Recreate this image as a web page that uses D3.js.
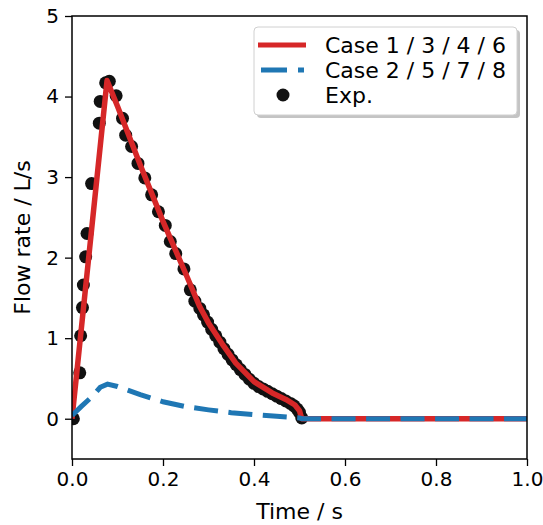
<!DOCTYPE html>
<html>
<head>
<meta charset="utf-8">
<script src="https://cdn.jsdelivr.net/npm/d3@7"></script>
<style>
  body { margin: 0; background: #fff; }
  svg text { font-family: "DejaVu Sans", sans-serif; fill: #000; }
</style>
</head>
<body>
<script>
// simulated flow, case 1 / 3 / 4 / 6
let simT = [0, 0.077, 0.10, 0.15, 0.20, 0.25, 0.28, 0.30, 0.33, 0.36, 0.40, 0.44, 0.47, 0.49, 0.50, 0.505, 1.0]
let simQ = [0, 4.2, 3.88, 3.15, 2.45, 1.80, 1.40, 1.19, 0.93, 0.69, 0.46, 0.32, 0.24, 0.17, 0.10, 0, 0]

// case 2 / 5 / 7 / 8
let sim2T = [0, 0.02, 0.047, 0.062, 0.078, 0.10, 0.12, 0.15, 0.20, 0.25, 0.30, 0.35, 0.40, 0.45, 0.50, 0.505, 1.0]
let sim2Q = [0.04, 0.15, 0.29, 0.39, 0.43, 0.40, 0.36, 0.30, 0.21, 0.15, 0.11, 0.075, 0.05, 0.03, 0.01, 0, 0]

// experiment
let expT = [0.003, 0.017, 0.019, 0.023, 0.025, 0.030, 0.033, 0.043, 0.060, 0.062, 0.074, 0.082,
  0.097, 0.111, 0.118, 0.131, 0.145, 0.160, 0.175, 0.190, 0.205, 0.216, 0.228, 0.246, 0.260,
  0.270, 0.281, 0.289, 0.298, 0.307, 0.316, 0.325, 0.334, 0.343, 0.352, 0.361, 0.370, 0.380,
  0.390, 0.400, 0.410, 0.420, 0.430, 0.440, 0.450, 0.460, 0.470, 0.480, 0.488, 0.495, 0.500, 0.505]
let expQ = [0.0, 0.57, 1.03, 1.38, 1.66, 2.01, 2.30, 2.92, 3.67, 3.94, 4.17, 4.19,
  4.01, 3.73, 3.52, 3.38, 3.17, 2.99, 2.78, 2.57, 2.40, 2.20, 2.05, 1.86, 1.60,
  1.46, 1.37, 1.29, 1.20, 1.11, 1.03, 0.95, 0.87, 0.80, 0.73, 0.67, 0.61, 0.55,
  0.49, 0.44, 0.40, 0.37, 0.34, 0.31, 0.28, 0.25, 0.22, 0.19, 0.16, 0.12, 0.08, 0.01]

let xTicks = [0, 0.2, 0.4, 0.6, 0.8, 1.0]
let yTicks = [0, 1, 2, 3, 4, 5]
let legendLabels = ['Case 1 / 3 / 4 / 6', 'Case 2 / 5 / 7 / 8', 'Exp.']

let width = 543
let height = 525
let plotLeft = 72, plotRight = 527, plotTop = 16, plotBottom = 459

let red = '#d62728'
let blue = '#1f77b4'

let svg = d3.select('body').append('svg')
    .attr('width', width)
    .attr('height', height)

let xScale = d3.scaleLinear().domain([0, 1]).range([plotLeft, plotRight])
let yScale = d3.scaleLinear().domain([-0.5, 5]).range([plotBottom, plotTop])

let line = d3.line()
    .x(d => xScale(d[0]))
    .y(d => yScale(d[1]))

let clip = svg.append('clipPath').attr('id', 'plot-clip')
clip.append('rect')
    .attr('x', plotLeft).attr('y', plotTop)
    .attr('width', plotRight - plotLeft).attr('height', plotBottom - plotTop)

let plot = svg.append('g').attr('clip-path', 'url(#plot-clip)')

// experiment dots
plot.selectAll('circle.exp')
    .data(expT.map((t, i) => [t, expQ[i]]))
    .enter()
    .append('circle')
    .attr('class', 'exp')
    .attr('cx', d => xScale(d[0]))
    .attr('cy', d => yScale(d[1]))
    .attr('r', 6.5)
    .attr('fill', '#111')

plot.append('path')
    .datum(simT.map((t, i) => [t, simQ[i]]))
    .attr('d', line)
    .attr('fill', 'none')
    .attr('stroke', red)
    .attr('stroke-width', 5.5)
    .attr('stroke-linejoin', 'round')

plot.append('path')
    .datum(sim2T.map((t, i) => [t, sim2Q[i]]))
    .attr('d', line)
    .attr('fill', 'none')
    .attr('stroke', blue)
    .attr('stroke-width', 5)
    .attr('stroke-dasharray', '24,10.5')

// axes
let xAxis = d3.axisBottom(xScale).tickValues(xTicks).tickFormat(d3.format('.1f')).tickSizeOuter(0).tickSize(7).tickPadding(6)
let yAxis = d3.axisLeft(yScale).tickValues(yTicks).tickFormat(d3.format('d')).tickSizeOuter(0).tickSize(7).tickPadding(6)

svg.append('g')
    .attr('transform', 'translate(0, ' + plotBottom + ')')
    .call(xAxis)
svg.append('g')
    .attr('transform', 'translate(' + plotLeft + ', 0)')
    .call(yAxis)

svg.selectAll('.domain').remove()
svg.selectAll('.tick line').attr('stroke', '#000').attr('stroke-width', 1.3)
svg.selectAll('.tick text').style('font-size', '20px').style('font-family', '"DejaVu Sans", sans-serif')

// frame
svg.append('rect')
    .attr('x', plotLeft).attr('y', plotTop)
    .attr('width', plotRight - plotLeft).attr('height', plotBottom - plotTop)
    .attr('fill', 'none')
    .attr('stroke', '#000')
    .attr('stroke-width', 1.5)

// axis labels
svg.append('text')
    .attr('x', (plotLeft + plotRight) / 2)
    .attr('y', 519)
    .attr('text-anchor', 'middle')
    .style('font-size', '22px')
    .text('Time / s')

svg.append('text')
    .attr('transform', 'translate(30, ' + (plotTop + plotBottom) / 2 + ') rotate(-90)')
    .attr('text-anchor', 'middle')
    .style('font-size', '22px')
    .text('Flow rate / L/s')

// legend
let legend = svg.append('g')
legend.append('rect')
    .attr('x', 257).attr('y', 30)
    .attr('width', 263).attr('height', 88)
    .attr('rx', 4)
    .attr('fill', '#8a8a8a')
    .attr('opacity', 0.5)
legend.append('rect')
    .attr('x', 254).attr('y', 27)
    .attr('width', 263).attr('height', 88)
    .attr('rx', 4)
    .attr('fill', '#fff')
    .attr('stroke', '#d0d0d0')
    .attr('stroke-width', 1)

let rowY = [45, 70, 95]
legend.append('line')
    .attr('x1', 258).attr('x2', 306)
    .attr('y1', rowY[0]).attr('y2', rowY[0])
    .attr('stroke', red).attr('stroke-width', 5)
legend.append('line')
    .attr('x1', 261).attr('x2', 304)
    .attr('y1', rowY[1]).attr('y2', rowY[1])
    .attr('stroke', blue).attr('stroke-width', 5)
    .attr('stroke-dasharray', '26,11')
legend.append('circle')
    .attr('cx', 283).attr('cy', rowY[2])
    .attr('r', 6.5)
    .attr('fill', '#111')

legend.selectAll('text.lab')
    .data(legendLabels)
    .enter()
    .append('text')
    .attr('class', 'lab')
    .attr('x', 325)
    .attr('y', (d, i) => rowY[i] + 8)
    .style('font-size', '22px')
    .text(d => d)
</script>
</body>
</html>
